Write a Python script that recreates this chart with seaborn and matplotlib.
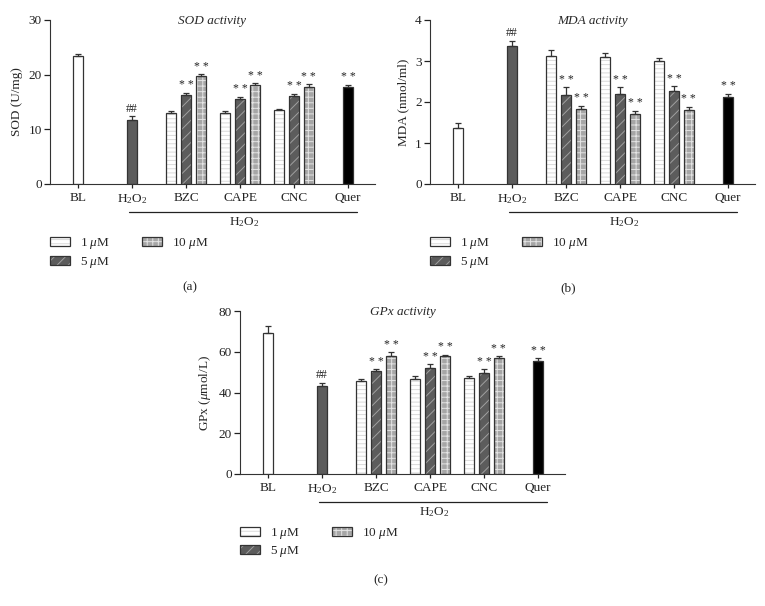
import numpy as np
import pandas as pd
import matplotlib
matplotlib.use("Agg")
import matplotlib.pyplot as plt
import matplotlib.transforms as mtransforms
from matplotlib.patches import Patch
import seaborn as sns

# categories and legend text
groups = ["BL", "H$_2$O$_2$", "BZC", "CAPE", "CNC", "Quer"]
dose_labels = ["1 $\\mu$M", "5 $\\mu$M", "10 $\\mu$M"]

# bar order: BL, H2O2, BZC 1/5/10, CAPE 1/5/10, CNC 1/5/10, Quer
bar_group = [0, 1, 2, 2, 2, 3, 3, 3, 4, 4, 4, 5]
bar_kind = ["BL", "H2O2", "1", "5", "10", "1", "5", "10", "1", "5", "10", "Quer"]

sod = [23.4, 11.7, 12.9, 16.3, 19.75, 13.0, 15.5, 18.1, 13.5, 16.1, 17.8, 17.7]
sod_err = [0.3, 0.7, 0.5, 0.4, 0.35, 0.4, 0.45, 0.4, 0.2, 0.4, 0.5, 0.5]

mda = [1.36, 3.36, 3.12, 2.16, 1.83, 3.10, 2.20, 1.71, 3.00, 2.28, 1.80, 2.12]
mda_err = [0.13, 0.14, 0.15, 0.21, 0.08, 0.10, 0.17, 0.08, 0.07, 0.10, 0.09, 0.08]

gpx = [69.2, 43.4, 45.6, 50.4, 58.0, 46.4, 51.8, 58.0, 46.9, 49.8, 56.7, 55.6]
gpx_err = [3.3, 1.5, 0.8, 1.2, 1.9, 1.8, 2.1, 0.6, 1.4, 1.5, 1.1, 1.2]

marks = ["", "##", "", "* *", "* *", "", "* *", "* *", "", "* *", "* *", "* *"]

# styles
offset = {"1": -0.275, "5": 0.0, "10": 0.275}
fill = {"BL": "white", "H2O2": "#5c5c5c", "1": "white", "5": "#5c5c5c",
        "10": "#a6a6a6", "Quer": "black"}
hatch = {"1": "----", "5": "///", "10": "+++"}
hatch_col = {"1": "#dadada", "5": "#a0a0a0", "10": "#e4e4e4"}
edge = "#333333"

sns.set_style("ticks")
plt.rcParams["font.family"] = ["Liberation Serif", "DejaVu Serif"]
plt.rcParams["mathtext.fontset"] = "custom"
plt.rcParams["mathtext.rm"] = "Liberation Serif"
plt.rcParams["mathtext.it"] = "Liberation Serif:italic"
plt.rcParams["hatch.linewidth"] = 0.7
plt.rcParams["axes.edgecolor"] = edge
fs = 9.5

pos = [g + offset.get(k, 0.0) for g, k in zip(bar_group, bar_kind)]


def panel(ax, vals, errs, ytop, yticks, ylabel, title):
    df = pd.DataFrame({"pos": pos, "val": vals, "kind": bar_kind})
    sns.barplot(data=df, x="pos", y="val", hue="kind", palette=fill,
                native_scale=True, width=0.69, dodge=False, errorbar=None,
                legend=False, linewidth=0, ax=ax)
    for p in ax.patches:
        c = p.get_x() + p.get_width() / 2
        k = bar_kind[int(np.argmin(np.abs(np.array(pos) - c)))]
        if k in hatch:
            p.set_hatch(hatch[k])
            p.set_edgecolor(hatch_col[k])
            p.set_linewidth(0)
    sns.barplot(data=df, x="pos", y="val", native_scale=True, width=0.69,
                fill=False, color=edge, linewidth=0.9, errorbar=None, ax=ax)
    ax.errorbar(df["pos"], df["val"], yerr=[np.zeros(len(vals)), errs],
                fmt="none", ecolor=edge, elinewidth=0.9, capsize=2.4,
                capthick=0.9)
    for x, v, e, m in zip(pos, vals, errs, marks):
        if m:
            ax.text(x, v + e + ytop * 0.008, m, ha="center", va="bottom",
                    fontsize=8.5, color="#222222")

    ax.set_xlim(-0.52, 5.5)
    ax.set_ylim(0, ytop)
    ax.set_yticks(yticks)
    ax.set_xticks(range(len(groups)))
    ax.set_xticklabels(groups, fontsize=fs)
    ax.tick_params(axis="y", labelsize=fs, length=4, width=0.9, pad=2, colors="#222222")
    ax.tick_params(axis="x", length=3, width=0.9, pad=3, colors="#222222")
    ax.set_xlabel("")
    ax.set_ylabel(ylabel, fontsize=fs, labelpad=4)
    sns.despine(ax=ax)
    ax.text(0.5, 0.995, title, transform=ax.transAxes, ha="center",
            va="center", style="italic", fontsize=fs)

    trans = mtransforms.blended_transform_factory(ax.transData, ax.transAxes)
    ax.plot([0.95, 5.17], [-0.17, -0.17], color="#222222", lw=0.9,
            transform=trans, clip_on=False)
    ax.text(3.07, -0.235, "H$_2$O$_2$", transform=trans, ha="center",
            va="center", fontsize=fs)

    handles = []
    for k in ["1", "5", "10"]:
        handles.append((Patch(facecolor=fill[k], hatch=hatch[k],
                              edgecolor=hatch_col[k], linewidth=0),
                        Patch(facecolor="none", edgecolor=edge, linewidth=0.9)))
    ax.legend(handles, dose_labels, loc="upper left", bbox_to_anchor=(0.0, -0.32),
              ncol=2, frameon=False, handlelength=1.5, handleheight=0.7,
              handletextpad=0.8, columnspacing=2.4, labelspacing=0.25,
              borderaxespad=0, borderpad=0, fontsize=fs)


fig = plt.figure(figsize=(7.65, 6.06), dpi=100)
W, H = 765, 606
ax_a = fig.add_axes([50 / W, 1 - 184 / H, 325 / W, 164 / H])
ax_b = fig.add_axes([430 / W, 1 - 184 / H, 325 / W, 164 / H])
ax_c = fig.add_axes([240 / W, 1 - 474 / H, 325 / W, 163 / H])

panel(ax_a, sod, sod_err, 30, [0, 10, 20, 30], "SOD (U/mg)", "SOD activity")
panel(ax_b, mda, mda_err, 4, [0, 1, 2, 3, 4], "MDA (nmol/ml)", "MDA activity")
panel(ax_c, gpx, gpx_err, 80, [0, 20, 40, 60, 80], "GPx ($\\mu$mol/L)", "GPx activity")

fig.text(190 / W, 1 - 287 / H, "(a)", ha="center", va="center", fontsize=fs)
fig.text(568 / W, 1 - 288 / H, "(b)", ha="center", va="center", fontsize=fs)
fig.text(381 / W, 1 - 580 / H, "(c)", ha="center", va="center", fontsize=fs)

fig.savefig("out.png", dpi=100)
